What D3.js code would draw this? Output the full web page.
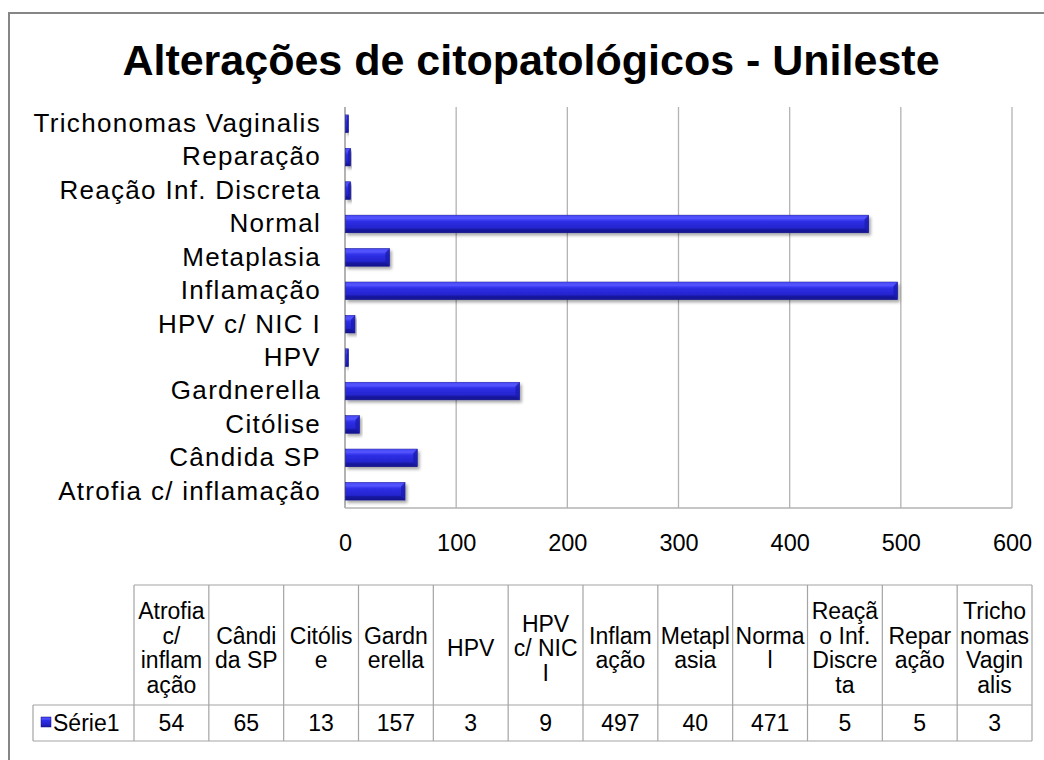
<!DOCTYPE html>
<html>
<head>
<meta charset="utf-8">
<script src="https://cdn.jsdelivr.net/npm/d3@7"></script>
<style>
  body { margin: 0; background: #fff; }
  svg { display: block; font-family: "Liberation Sans", Arial, sans-serif; }
</style>
</head>
<body>
<svg id="chart" width="1044" height="760"></svg>
<script>
// data, bottom category first (as in the table)
const categories = ['Atrofia c/ inflamação', 'Cândida SP', 'Citólise', 'Gardnerella', 'HPV', 'HPV c/ NIC I',
  'Inflamação', 'Metaplasia', 'Normal', 'Reação Inf. Discreta', 'Reparação', 'Trichonomas Vaginalis'];
const values = [54, 65, 13, 157, 3, 9, 497, 40, 471, 5, 5, 3];
const xTicks = [0, 100, 200, 300, 400, 500, 600];
// header labels as wrapped in the data table
const headerLines = [['Atrofia', 'c/', 'inflam', 'ação'], ['Cândi', 'da SP'], ['Citólis', 'e'], ['Gardn', 'erella'],
  ['HPV'], ['HPV', 'c/ NIC', 'I'], ['Inflam', 'ação'], ['Metapl', 'asia'], ['Norma', 'l'],
  ['Reaçã', 'o Inf.', 'Discre', 'ta'], ['Repar', 'ação'], ['Tricho', 'nomas', 'Vagin', 'alis']];
const seriesName = 'Série1';
const title = 'Alterações de citopatológicos - Unileste';

const svg = d3.select('#chart');
const plot = { left: 345, right: 1012, top: 107, bottom: 508 };
const gridColor = '#b3b3b3';
const tableColor = '#a4a4a4';

// defs: bar gradient + shadow
const defs = svg.append('defs');
const grad = defs.append('linearGradient')
  .attr('id', 'barGrad').attr('x1', 0).attr('y1', 0).attr('x2', 0).attr('y2', 1);
[[0, '#3838ec'], [0.18, '#5050ff'], [0.35, '#2e2ee6'], [0.7, '#2525d0'], [1, '#18189e']]
  .forEach(s => grad.append('stop').attr('offset', s[0]).attr('stop-color', s[1]));
defs.append('filter').attr('id', 'shadow').attr('x', '-10%').attr('y', '-30%').attr('width', '130%').attr('height', '180%')
  .append('feDropShadow').attr('dx', 2).attr('dy', 2.5).attr('stdDeviation', 1.6)
  .attr('flood-color', '#000').attr('flood-opacity', 0.35);

// outer frame
svg.append('rect')
  .attr('x', 9).attr('y', 13).attr('width', 1100).attr('height', 800)
  .attr('fill', 'none').attr('stroke', '#868686').attr('stroke-width', 2);

// title
svg.append('text')
  .attr('x', 531).attr('y', 75)
  .attr('text-anchor', 'middle')
  .attr('font-size', 43).attr('font-weight', 'bold')
  .attr('fill', '#000')
  .text(title);

// scales
const x = d3.scaleLinear().domain([0, 600]).range([plot.left, plot.right]);
const y = d3.scaleBand().domain(categories).range([plot.bottom, plot.top])
  .paddingInner(0.475).paddingOuter(0.2375);

// grid
svg.append('g').selectAll('line').data(xTicks.slice(1)).join('line')
  .attr('x1', d => x(d)).attr('x2', d => x(d))
  .attr('y1', plot.top).attr('y2', plot.bottom)
  .attr('stroke', gridColor).attr('stroke-width', 1.3);
svg.append('line')
  .attr('x1', plot.left).attr('x2', plot.right).attr('y1', plot.bottom).attr('y2', plot.bottom)
  .attr('stroke', gridColor).attr('stroke-width', 1.5);
svg.append('line')
  .attr('x1', plot.left).attr('x2', plot.left).attr('y1', plot.top).attr('y2', plot.bottom)
  .attr('stroke', gridColor).attr('stroke-width', 2);

// axes
const xAxis = svg.append('g')
  .attr('transform', `translate(0,${plot.bottom})`)
  .call(d3.axisBottom(x).tickValues(xTicks).tickSize(0).tickPadding(26));
xAxis.select('.domain').remove();
xAxis.selectAll('text').attr('font-size', 23.5).attr('font-family', null).attr('fill', '#000');

const yAxis = svg.append('g')
  .attr('transform', `translate(${plot.left},0)`)
  .call(d3.axisLeft(y).tickSize(0).tickPadding(24));
yAxis.select('.domain').remove();
yAxis.selectAll('text')
  .attr('font-size', 26).attr('letter-spacing', 1.3)
  .attr('font-family', null).attr('fill', '#000');

// bars with a bevel look
function drawBar (g, x0, x1, y0, y1) {
  const b = Math.min(4, (x1 - x0) / 2, (y1 - y0) / 2);
  g.append('rect')
    .attr('x', x0).attr('y', y0).attr('width', x1 - x0).attr('height', y1 - y0)
    .attr('fill', 'url(#barGrad)').attr('stroke', '#16168c').attr('stroke-width', 0.6)
    .attr('filter', 'url(#shadow)');
  g.append('polygon')
    .attr('points', [[x1 - b, y0 + b], [x1, y0], [x1, y1], [x1 - b, y1 - b]].join(' '))
    .attr('fill', '#1c1cb0').attr('opacity', 0.8);
  g.append('polygon')
    .attr('points', [[x0, y1], [x1, y1], [x1 - b, y1 - b], [x0, y1 - b]].join(' '))
    .attr('fill', '#101080').attr('opacity', 0.45);
  g.append('polygon')
    .attr('points', [[x0, y0], [x1, y0], [x1 - b, y0 + b], [x0, y0 + b]].join(' '))
    .attr('fill', '#5a5aff').attr('opacity', 0.45);
}

const bars = svg.append('g');
categories.forEach((c, i) => {
  const g = bars.append('g');
  drawBar(g, x(0) + 0.5, x(values[i]), y(c), y(c) + y.bandwidth());
});

// data table
const tbl = { left: 134, right: 1032, top: 585, mid: 705, bottom: 741, keyLeft: 33 };
const col = d3.scaleBand().domain(categories).range([tbl.left, tbl.right]);
const tg = svg.append('g').attr('fill', '#000');

// borders
const edges = col.domain().map(c => col(c)).concat([tbl.right]);
tg.selectAll('line.v').data(edges).join('line')
  .attr('x1', d => d).attr('x2', d => d).attr('y1', tbl.top).attr('y2', tbl.bottom)
  .attr('stroke', tableColor).attr('stroke-width', 1.2);
tg.append('line').attr('x1', tbl.left).attr('x2', tbl.right).attr('y1', tbl.top).attr('y2', tbl.top)
  .attr('stroke', tableColor).attr('stroke-width', 1.2);
[tbl.mid, tbl.bottom].forEach(yy => {
  tg.append('line').attr('x1', tbl.keyLeft).attr('x2', tbl.right).attr('y1', yy).attr('y2', yy)
    .attr('stroke', tableColor).attr('stroke-width', 1.2);
});
tg.append('line').attr('x1', tbl.keyLeft).attr('x2', tbl.keyLeft).attr('y1', tbl.mid).attr('y2', tbl.bottom)
  .attr('stroke', tableColor).attr('stroke-width', 1.2);

// header text, lines centred in the cell
const lineH = 24.5;
const headBase = (tbl.top + tbl.mid) / 2 + 11;
categories.forEach((c, i) => {
  const lines = headerLines[i];
  const t = tg.append('text')
    .attr('text-anchor', 'middle').attr('font-size', 23);
  lines.forEach((ln, j) => {
    t.append('tspan')
      .attr('x', col(c) + col.bandwidth() / 2)
      .attr('y', headBase + (j - (lines.length - 1) / 2) * lineH)
      .text(ln);
  });
});

// values row
tg.selectAll('text.val').data(values).join('text')
  .attr('class', 'val')
  .attr('x', (d, i) => col(categories[i]) + col.bandwidth() / 2)
  .attr('y', (tbl.mid + tbl.bottom) / 2)
  .attr('dy', '0.36em')
  .attr('text-anchor', 'middle').attr('font-size', 23)
  .text(d => d);

// legend key + series name
tg.append('rect')
  .attr('x', 41).attr('y', 717).attr('width', 10).attr('height', 10)
  .attr('fill', 'url(#barGrad)').attr('stroke', '#16168c').attr('stroke-width', 0.5);
tg.append('text')
  .attr('x', 53).attr('y', (tbl.mid + tbl.bottom) / 2)
  .attr('dy', '0.36em').attr('font-size', 23)
  .text(seriesName);
</script>
</body>
</html>
